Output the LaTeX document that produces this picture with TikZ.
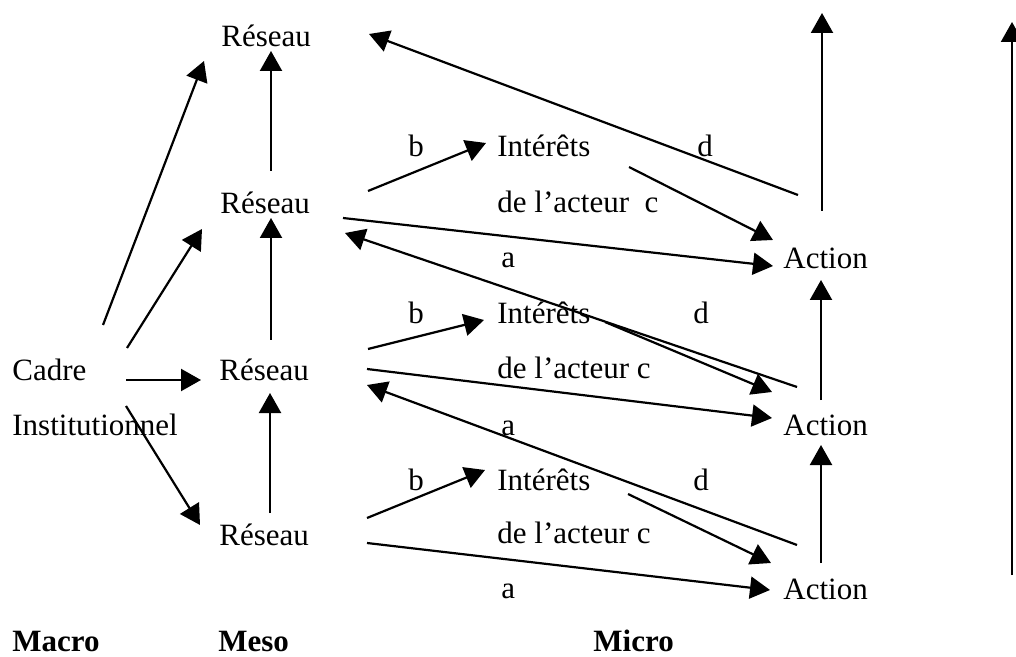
\documentclass[tikz,border=0pt]{standalone}
\usepackage{fontspec}
\setmainfont{Liberation Serif}
\usetikzlibrary{arrows.meta}
\begin{document}
\begin{tikzpicture}[x=0.5pt,y=-0.5pt,
  txt/.style={anchor=base west,inner sep=0pt,font=\fontsize{15.5}{18}\selectfont},
  bld/.style={anchor=base west,inner sep=0pt,font=\fontsize{15.5}{18}\selectfont\bfseries},
  arr/.style={line width=1.1pt,-{Triangle[length=10pt,width=11pt]}},
  ln/.style={line width=1.1pt}]
\useasboundingbox (0,0) rectangle (1016,657);
% text nodes
\node[txt] (r1) at (221,47) {Réseau};
\node[txt] (r2) at (220,214) {Réseau};
\node[txt] (r3) at (219,380) {Réseau};
\node[txt] (r4) at (219,545) {Réseau};
\node[txt] (cadre) at (12,380) {Cadre};
\node[txt] (inst) at (12,435) {Institutionnel};
\node[bld] (macro) at (12,651) {Macro};
\node[bld] (meso) at (218,651) {Meso};
\node[bld] (micro) at (593,651) {Micro};
% row 1
\node[txt] (b1) at (408,157) {b};
\node[txt] (i1) at (497,157) {Intérêts};
\node[txt] (d1) at (697,157) {d};
\node[txt] (c1) at (497,213) {de l’acteur\ \ c};
\node[txt] (a1) at (501,268) {a};
\node[txt] (act1) at (783,269) {Action};
% row 2
\node[txt] (b2) at (408,324) {b};
\node[txt] (i2) at (497,324) {Intérêts};
\node[txt] (d2) at (693,324) {d};
\node[txt] (c2) at (497,379) {de l’acteur c};
\node[txt] (a2) at (501,435) {a};
\node[txt] (act2) at (783,435) {Action};
% row 3
\node[txt] (b3) at (408,490) {b};
\node[txt] (i3) at (497,490) {Intérêts};
\node[txt] (d3) at (693,490) {d};
\node[txt] (c3) at (497,543) {de l’acteur c};
\node[txt] (a3) at (501,598) {a};
\node[txt] (act3) at (783,599) {Action};
% endpoints
\coordinate (cA) at (103,325); \coordinate (r1L) at (204,61);
\coordinate (cB) at (127,348); \coordinate (r2L) at (202,229);
\coordinate (cC) at (126,380); \coordinate (r3L) at (201,380);
\coordinate (cD) at (126,406); \coordinate (r4L) at (200,525);
\coordinate (r2T) at (271,171); \coordinate (r1B) at (271,51);
\coordinate (r3T) at (271,340); \coordinate (r2B) at (271,218);
\coordinate (r4T) at (270,513); \coordinate (r3B) at (270,393);
% row1 endpoints
\coordinate (r2b) at (368,191); \coordinate (i1b) at (486,143);
\coordinate (i1c) at (629,167); \coordinate (act1c) at (773,240);
\coordinate (r2a) at (343,218); \coordinate (act1a) at (773,266);
\coordinate (act1d) at (798,195); \coordinate (r1R) at (369,34);
\coordinate (act1T) at (822,211); \coordinate (top1) at (822,13);
% row2 endpoints
\coordinate (r3b) at (368,349); \coordinate (i2b) at (484,320);
\coordinate (i2c) at (605,322); \coordinate (act2c) at (772,392);
\coordinate (r3a) at (367,369); \coordinate (act2a) at (772,418);
\coordinate (act2d) at (797,387); \coordinate (r2R) at (345,233);
\coordinate (act2T) at (821,400); \coordinate (act1B) at (821,280);
% row3 endpoints
\coordinate (r4b) at (367,518); \coordinate (i3b) at (485,470);
\coordinate (i3c) at (628,494); \coordinate (act3c) at (771,563);
\coordinate (r4a) at (367,543); \coordinate (act3a) at (770,590);
\coordinate (act3d) at (797,545); \coordinate (r3R) at (367,385);
\coordinate (act3T) at (821,563); \coordinate (act2B) at (821,445);
% right line
\coordinate (rb) at (1012,575); \coordinate (rt) at (1012,22);
% connectors
\draw[arr] (cA) -- (r1L);
\draw[arr] (cB) -- (r2L);
\draw[arr] (cC) -- (r3L);
\draw[arr] (cD) -- (r4L);
\draw[arr] (r2T) -- (r1B);
\draw[arr] (r3T) -- (r2B);
\draw[arr] (r4T) -- (r3B);
\draw[arr] (r2b) -- (i1b);
\draw[arr] (i1c) -- (act1c);
\draw[arr] (r2a) -- (act1a);
\draw[arr] (act1d) -- (r1R);
\draw[arr] (act1T) -- (top1);
\draw[arr] (r3b) -- (i2b);
\draw[arr] (i2c) -- (act2c);
\draw[arr] (r3a) -- (act2a);
\draw[arr] (act2d) -- (r2R);
\draw[arr] (act2T) -- (act1B);
\draw[arr] (r4b) -- (i3b);
\draw[arr] (i3c) -- (act3c);
\draw[arr] (r4a) -- (act3a);
\draw[arr] (act3d) -- (r3R);
\draw[arr] (act3T) -- (act2B);
\draw[arr] (rb) -- (rt);
\end{tikzpicture}
\end{document}
